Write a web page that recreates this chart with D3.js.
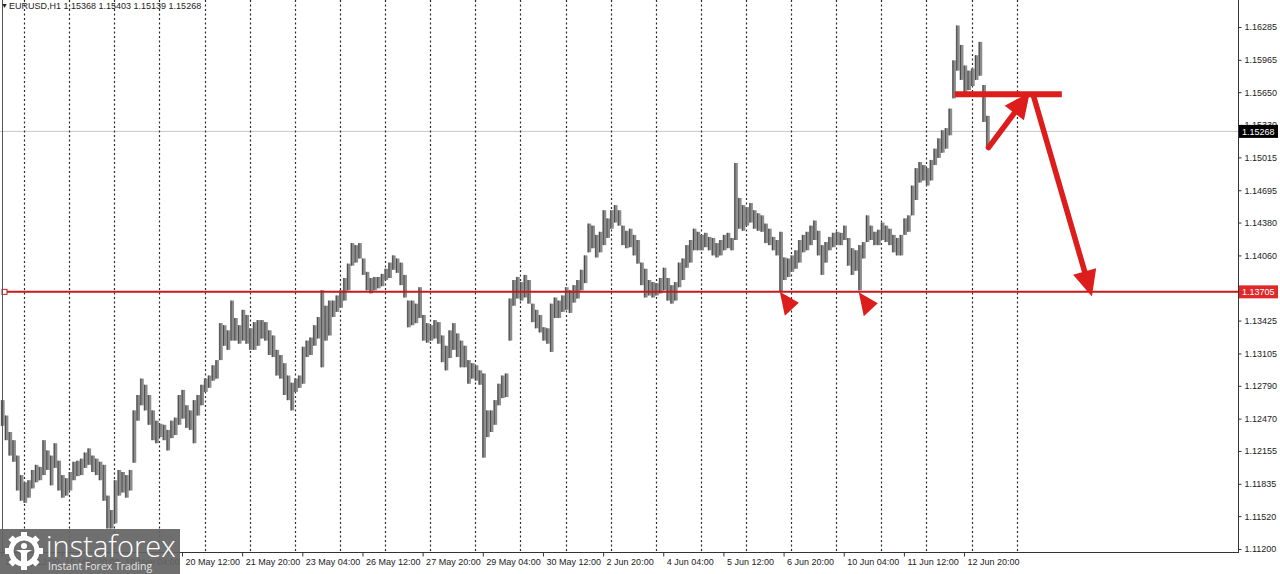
<!DOCTYPE html>
<html><head><meta charset="utf-8">
<script src="https://cdn.jsdelivr.net/npm/d3@7"></script>
<style>
body{margin:0;background:#fff;}
svg{display:block;font-family:"Liberation Sans",Arial,sans-serif;}
</style>
</head><body>
<svg id="c" width="1280" height="574"></svg>
<script>
// ---------- DATA ----------
const symbolTitle = "EURUSD,H1";
const lastOHLC = ["1.15368", "1.15403", "1.15139", "1.15268"];
// highs / lows, one entry every 2 hourly bars, starting 14 May 12:00
const barHigh = [
1.1265,1.1250,1.1234,1.1226,1.1211,1.1192,1.1185,1.1187,1.1197,1.1202,
1.1200,1.1226,1.1216,1.1211,1.1223,1.1206,1.1192,1.1189,1.1195,1.1205,
1.1206,1.1208,1.1214,1.1218,1.1211,1.1208,1.1205,1.1202,1.1172,1.1158,
1.1187,1.1197,1.1195,1.1192,1.1197,1.1255,1.1270,1.1286,1.1280,1.1270,
1.1255,1.1245,1.1242,1.1241,1.1236,1.1245,1.1248,1.1270,1.1275,1.1260,
1.1255,1.1265,1.1270,1.1280,1.1286,1.1289,1.1299,1.1304,1.1340,1.1338,
1.1333,1.1362,1.1345,1.1338,1.1353,1.1348,1.1335,1.1341,1.1343,1.1343,
1.1341,1.1333,1.1328,1.1314,1.1309,1.1301,1.1289,1.1282,1.1286,1.1289,
1.1317,1.1323,1.1326,1.1338,1.1346,1.1372,1.1357,1.1362,1.1362,1.1367,
1.1372,1.1384,1.1398,1.1418,1.1416,1.1418,1.1403,1.1390,1.1384,1.1385,
1.1385,1.1388,1.1393,1.1399,1.1406,1.1403,1.1399,1.1387,1.1362,1.1362,
1.1359,1.1375,1.1348,1.1340,1.1338,1.1343,1.1341,1.1328,1.1318,1.1333,
1.1340,1.1330,1.1323,1.1318,1.1304,1.1301,1.1299,1.1294,1.1291,1.1255,
1.1255,1.1265,1.1281,1.1289,1.1291,1.1364,1.1382,1.1385,1.1380,1.1387,
1.1382,1.1359,1.1353,1.1348,1.1336,1.1335,1.1359,1.1365,1.1362,1.1367,
1.1375,1.1372,1.1377,1.1382,1.1392,1.1406,1.1437,1.1435,1.1426,1.1429,
1.1450,1.1442,1.1450,1.1455,1.1450,1.1435,1.1430,1.1432,1.1426,1.1421,
1.1399,1.1393,1.1382,1.1380,1.1379,1.1384,1.1394,1.1384,1.1377,1.1380,
1.1399,1.1403,1.1416,1.1421,1.1432,1.1429,1.1426,1.1428,1.1424,1.1423,
1.1418,1.1421,1.1426,1.1428,1.1423,1.1496,1.1462,1.1455,1.1453,1.1457,
1.1450,1.1447,1.1445,1.1437,1.1432,1.1424,1.1421,1.1429,1.1404,1.1403,
1.1406,1.1411,1.1421,1.1426,1.1429,1.1435,1.1440,1.1430,1.1416,1.1419,
1.1424,1.1428,1.1429,1.1428,1.1435,1.1423,1.1413,1.1411,1.1416,1.1419,
1.1445,1.1435,1.1429,1.1431,1.1438,1.1435,1.1432,1.1426,1.1423,1.1426,
1.1442,1.1445,1.1474,1.1491,1.1497,1.1494,1.1491,1.1499,1.1510,1.1520,
1.1528,1.1530,1.1549,1.1596,1.1630,1.1611,1.1591,1.1586,1.1588,1.1601,
1.1614,1.1572,1.1542];
const barLow = [
1.1240,1.1226,1.1211,1.1205,1.1177,1.1167,1.1165,1.1170,1.1179,1.1185,
1.1187,1.1192,1.1197,1.1182,1.1199,1.1177,1.1170,1.1172,1.1177,1.1187,
1.1191,1.1192,1.1199,1.1202,1.1195,1.1192,1.1187,1.1167,1.1140,1.1140,
1.1145,1.1172,1.1175,1.1170,1.1177,1.1204,1.1245,1.1260,1.1255,1.1241,
1.1226,1.1223,1.1229,1.1226,1.1216,1.1228,1.1231,1.1241,1.1247,1.1238,
1.1236,1.1223,1.1250,1.1260,1.1273,1.1277,1.1284,1.1286,1.1304,1.1318,
1.1314,1.1323,1.1323,1.1320,1.1323,1.1320,1.1314,1.1314,1.1318,1.1325,
1.1323,1.1309,1.1307,1.1289,1.1286,1.1270,1.1265,1.1255,1.1273,1.1277,
1.1281,1.1307,1.1309,1.1318,1.1325,1.1297,1.1323,1.1328,1.1346,1.1351,
1.1355,1.1362,1.1372,1.1396,1.1399,1.1403,1.1387,1.1372,1.1369,1.1372,
1.1374,1.1376,1.1382,1.1384,1.1392,1.1389,1.1377,1.1365,1.1336,1.1338,
1.1340,1.1345,1.1323,1.1321,1.1323,1.1325,1.1320,1.1302,1.1294,1.1306,
1.1314,1.1307,1.1297,1.1297,1.1281,1.1286,1.1284,1.1280,1.1209,1.1229,
1.1234,1.1241,1.1260,1.1267,1.1268,1.1323,1.1357,1.1364,1.1362,1.1365,
1.1359,1.1341,1.1335,1.1331,1.1323,1.1320,1.1312,1.1345,1.1345,1.1351,
1.1353,1.1350,1.1360,1.1364,1.1372,1.1379,1.1409,1.1413,1.1404,1.1409,
1.1416,1.1423,1.1432,1.1438,1.1435,1.1416,1.1413,1.1414,1.1406,1.1398,
1.1377,1.1365,1.1367,1.1365,1.1367,1.1369,1.1372,1.1362,1.1359,1.1362,
1.1375,1.1382,1.1394,1.1399,1.1411,1.1411,1.1411,1.1414,1.1411,1.1406,
1.1404,1.1406,1.1411,1.1413,1.1411,1.1421,1.1432,1.1430,1.1435,1.1438,
1.1432,1.1430,1.1429,1.1418,1.1416,1.1411,1.1406,1.1371,1.1382,1.1385,
1.1390,1.1393,1.1399,1.1409,1.1411,1.1416,1.1421,1.1406,1.1387,1.1399,
1.1411,1.1414,1.1416,1.1416,1.1421,1.1396,1.1387,1.1391,1.1372,1.1403,
1.1419,1.1421,1.1416,1.1416,1.1421,1.1419,1.1416,1.1409,1.1406,1.1406,
1.1426,1.1429,1.1445,1.1460,1.1477,1.1479,1.1474,1.1479,1.1494,1.1501,
1.1506,1.1510,1.1523,1.1559,1.1586,1.1577,1.1565,1.1567,1.1571,1.1577,
1.1581,1.1536,1.1510];
const barsPerSample = 2;
const priceTicks = [1.16285,1.15965,1.15650,1.15330,1.15015,1.14695,1.14380,1.14060,1.13740,
                    1.13425,1.13105,1.12790,1.12470,1.12155,1.11835,1.11520,1.11200];
const timeLabels = ["14 May 12:00","15 May 20:00","19 May 04:00","20 May 12:00","21 May 20:00",
  "23 May 04:00","26 May 12:00","27 May 20:00","29 May 04:00","30 May 12:00","2 Jun 20:00",
  "4 Jun 04:00","5 Jun 12:00","6 Jun 20:00","10 Jun 04:00","11 Jun 12:00","12 Jun 20:00"];
const barsPerLabel = 32;
const firstMidnightBar = 12, barsPerDay = 24, daySeparatorCount = 23;
const supportPrice = 1.13705;
const currentPrice = 1.15268;
const resistanceZone = {fromBar: 507, toBar: 564, price: 1.1563};
const arrowPaths = [
  {bar0: 525, p0: 1.1511, bar1: 547, p1: 1.1565},
  {bar0: 549, p0: 1.1561, bar1: 580, p1: 1.1366}
];
const touchMarkers = [{bar: 414, price: 1.13705}, {bar: 456, price: 1.13700}];

// ---------- SCALES ----------
const svg = d3.select("#c");
const plotRight = 1238, plotBottom = 552;
const x = d3.scaleLinear().domain([0, 658]).range([1.5, 1.5 + 658 * 1.88]);
const y = d3.scaleLinear().domain([1.11200, 1.16285]).range([549, 27]);
const red = "#dd1c1c";

// current price line
svg.append("line").attr("x1", 0).attr("x2", plotRight)
  .attr("y1", y(currentPrice)).attr("y2", y(currentPrice))
  .attr("stroke", "#c8c8c8").attr("stroke-width", 1);

// day separators
svg.append("g").selectAll("line")
  .data(d3.range(daySeparatorCount).map(k => firstMidnightBar + k * barsPerDay))
  .join("line")
  .attr("x1", d => Math.round(x(d)) + 0.5).attr("x2", d => Math.round(x(d)) + 0.5)
  .attr("y1", 0).attr("y2", plotBottom)
  .attr("stroke", "#2a2a2a").attr("stroke-width", 1.2).attr("stroke-dasharray", "2,2.5");

// price bars
const samples = barHigh.map((h, j) => ({bar: j * barsPerSample, hi: h, lo: barLow[j]}));
const gBars = svg.append("g");
gBars.selectAll("line.b").data(samples).join("line").attr("class", "b")
  .attr("x1", d => x(d.bar) + 1.2).attr("x2", d => x(d.bar) + 1.2)
  .attr("y1", d => y(d.hi)).attr("y2", d => y(d.lo))
  .attr("stroke", "#8c8c8c").attr("stroke-width", 3.9);
gBars.selectAll("line.c").data(samples).join("line").attr("class", "c")
  .attr("x1", d => x(d.bar) + 0.2).attr("x2", d => x(d.bar) + 0.2)
  .attr("y1", d => y(d.hi)).attr("y2", d => y(d.lo))
  .attr("stroke", "#4a4a4a").attr("stroke-width", 1);

// support line
svg.append("line").attr("x1", 2).attr("x2", plotRight)
  .attr("y1", y(supportPrice)).attr("y2", y(supportPrice))
  .attr("stroke", "#c41a1a").attr("stroke-width", 2);
svg.append("rect").attr("x", 2).attr("y", y(supportPrice) - 2.5).attr("width", 5).attr("height", 5)
  .attr("fill", "#fff").attr("stroke", "#c41a1a").attr("stroke-width", 1);

// frame lines
svg.append("line").attr("x1", 2.5).attr("x2", 2.5).attr("y1", 0).attr("y2", plotBottom)
  .attr("stroke", "#555").attr("stroke-width", 1);
svg.append("line").attr("x1", plotRight + 0.5).attr("x2", plotRight + 0.5).attr("y1", 0).attr("y2", plotBottom)
  .attr("stroke", "#333").attr("stroke-width", 1);

// right axis
const yAxis = d3.axisRight(y).tickValues(priceTicks).tickFormat(d3.format(".5f")).tickSize(3).tickPadding(3);
const gy = svg.append("g").attr("transform", `translate(${plotRight + 0.5},0)`).call(yAxis);
gy.select(".domain").remove();
gy.selectAll("text").attr("font-size", 9).attr("fill", "#222").attr("font-family", "Liberation Sans, Arial");
gy.selectAll("line").attr("stroke", "#333");

// bottom axis
const labelBars = timeLabels.map((t, i) => i * barsPerLabel);
const xAxis = d3.axisBottom(x).tickValues(labelBars).tickFormat((d, i) => timeLabels[i]).tickSize(4);
const gx = svg.append("g").attr("transform", `translate(0,${plotBottom + 0.5})`).call(xAxis);
gx.select(".domain").remove();
gx.selectAll("text").attr("text-anchor", "start").attr("dx", 3).attr("y", 6)
  .attr("font-size", 9).attr("fill", "#222").attr("font-family", "Liberation Sans, Arial");
gx.selectAll("line").attr("stroke", "#333");
svg.append("line").attr("x1", 0).attr("x2", plotRight + 1).attr("y1", plotBottom + 0.5).attr("y2", plotBottom + 0.5)
  .attr("stroke", "#333").attr("stroke-width", 1);

// price labels on axis
function priceTag(p, bg) {
  const yy = y(p);
  svg.append("rect").attr("x", plotRight + 1).attr("y", yy - 6.5).attr("width", 39).attr("height", 13).attr("fill", bg);
  svg.append("text").attr("x", plotRight + 4).attr("y", yy + 3.5).attr("font-size", 9)
    .attr("fill", "#fff").text(d3.format(".5f")(p));
}
priceTag(currentPrice, "#000");
priceTag(supportPrice, "#e0282a");

// header
svg.append("text").attr("x", 1).attr("y", 8).attr("font-size", 7).attr("fill", "#222").text("▼");
svg.append("text").attr("x", 9).attr("y", 9).attr("font-size", 9).attr("fill", "#222")
  .text(symbolTitle + " " + lastOHLC.join(" "));

// annotations: resistance bar
svg.append("line").attr("x1", x(resistanceZone.fromBar)).attr("x2", x(resistanceZone.toBar))
  .attr("y1", y(resistanceZone.price)).attr("y2", y(resistanceZone.price))
  .attr("stroke", red).attr("stroke-width", 6);

// arrows
arrowPaths.forEach(a => {
  const x0 = x(a.bar0), y0 = y(a.p0), x1 = x(a.bar1), y1 = y(a.p1);
  const dx = x1 - x0, dy = y1 - y0, L = Math.hypot(dx, dy);
  const ux = dx / L, uy = dy / L, nx = -uy, ny = ux;
  const hl = 26, hw = 12;
  const bx = x1 - ux * hl, by = y1 - uy * hl;
  svg.append("line").attr("x1", x0).attr("y1", y0).attr("x2", bx + ux * 3).attr("y2", by + uy * 3)
    .attr("stroke", red).attr("stroke-width", 5.5).attr("stroke-linecap", "round");
  svg.append("polygon").attr("fill", red)
    .attr("points", [[x1, y1], [bx + nx * hw, by + ny * hw], [bx - nx * hw, by - ny * hw]].map(p => p.join(",")).join(" "));
});

// touch markers
touchMarkers.forEach(m => {
  const tx = x(m.bar), ty = y(m.price);
  svg.append("polygon").attr("fill", red)
    .attr("points", [[tx, ty], [tx + 19, ty + 11], [tx + 5, ty + 24]].map(p => p.join(",")).join(" "));
});

// logo
const logo = svg.append("g");
logo.append("rect").attr("x", 0).attr("y", 529).attr("width", 180).attr("height", 45)
  .attr("fill", "#646464").attr("opacity", 0.93);
const gear = logo.append("g").attr("transform", "translate(24,551)");
d3.range(8).forEach(i => {
  gear.append("rect").attr("x", -3).attr("y", -19).attr("width", 6).attr("height", 7)
    .attr("fill", "#fff").attr("transform", `rotate(${i * 45})`);
});
gear.append("circle").attr("r", 13).attr("fill", "none").attr("stroke", "#fff").attr("stroke-width", 5);
gear.append("circle").attr("cy", -5).attr("r", 3).attr("fill", "#fff");
gear.append("path").attr("d", "M-8,-1 L8,-1 L3,2 L3,12 L-3,12 L-3,2 Z").attr("fill", "#fff");
logo.append("text").attr("x", 46).attr("y", 557).attr("font-family", "Open Sans, Lato, sans-serif")
  .attr("font-weight", 300).attr("font-size", 29).attr("fill", "#fff").text("instaforex");
logo.append("text").attr("x", 48).attr("y", 570).attr("font-family", "Open Sans, Lato, sans-serif")
  .attr("font-size", 10.5).attr("fill", "#e6e6e6").text("Instant Forex Trading");
</script>
</body></html>
